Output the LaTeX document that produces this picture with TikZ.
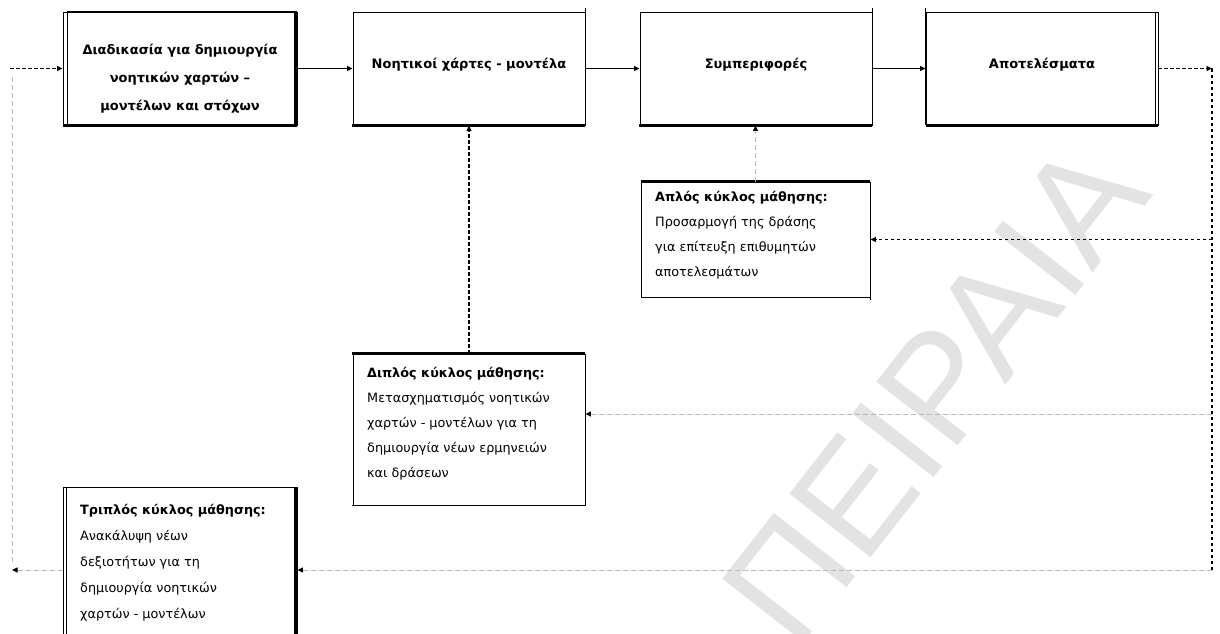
\documentclass[tikz,border=0pt]{standalone}
\usepackage{fontspec}
\setmainfont{DejaVu Sans}
\newfontfamily\wmfont{Liberation Sans}
\usetikzlibrary{arrows.meta}
\begin{document}
\begin{tikzpicture}[x=1pt,y=-1pt,
  frame/.style={draw=black, line width=0.9pt, fill=white, inner sep=0pt},
  topbox/.style={frame, minimum width=232pt, minimum height=113pt},
  toptext/.style={inner sep=0pt, align=center, font=\fontsize{13}{28}\selectfont\bfseries},
  looptext/.style={inner sep=0pt, align=left, anchor=north west},
  heavy/.style={line width=2.6pt},
  tip/.style={-{Triangle[length=5.5pt,width=5pt,color=black]}},
  solidarrow/.style={line width=1pt, tip},
  darkdash/.style={line width=1.3pt, dash pattern=on 3.5pt off 2.5pt},
  greydash/.style={draw=black!28, line width=0.9pt, dash pattern=on 5pt off 3pt},
  watermark/.style={text=black!11, inner sep=0pt, font=\wmfont\fontsize{150}{150}\selectfont}
]
\useasboundingbox (0,0) rectangle (1220,634);
\fill[white] (0,0) rectangle (1220,634);

% background lettering
\node[watermark, rotate=52] (wm) at (935,392) {ΠΕΙΡΑΙΑ};

% top row of boxes
\node[topbox, minimum width=234pt] (box1) at (180,68.5) {};
\node[topbox] (box2) at (469,68.5) {};
\node[topbox] (box3) at (756,68.5) {};
\node[topbox] (box4) at (1042,68.5) {};

% loop boxes
\node[frame, minimum width=229pt, minimum height=115pt] (single) at (755.5,239.5) {};
\node[frame, minimum width=232pt, minimum height=151pt] (double) at (469,429.5) {};
\node[frame, minimum width=234pt, minimum height=150pt] (triple) at (180,562) {};

% heavier edges of the frames
\draw[line width=0.9pt] ([xshift=4.5pt]box1.north west) -- ([xshift=4.5pt]box1.south west);
\draw[line width=3pt] ([xshift=-1.5pt]box1.north east) -- ([xshift=-1.5pt]box1.south east);
\draw[line width=2.2pt] (box1.south west) -- (box1.south east);
\draw[line width=1.8pt] ([xshift=4.5pt]box1.north west) -- (box1.north east);

\draw[heavy] ([xshift=-1pt]box2.south west) -- (box2.south east);
\draw[line width=0.9pt] ([yshift=4pt]box2.north east) -- (box2.south east);
\draw[heavy] ([xshift=-1pt]box3.south west) -- (box3.south east);
\draw[line width=0.9pt] ([yshift=4pt]box3.north east) -- (box3.south east);

\draw[heavy] (box4.south west) -- (box4.south east);
\draw[line width=0.9pt] ([yshift=4pt]box4.north west) -- (box4.south west);
\draw[line width=0.9pt] ([xshift=-3.5pt]box4.north east) -- ([xshift=-3.5pt]box4.south east);

\draw[heavy] (single.north west) -- (single.north east);
\draw[line width=0.9pt] (single.north east) -- ([yshift=-3pt]single.south east);
\draw[heavy] ([xshift=-1pt]double.north west) -- (double.north east);
\draw[line width=0.9pt] ([xshift=-1pt]double.south west) -- (double.south east);

\draw[line width=0.9pt] ([xshift=3.5pt]triple.north west) -- ([xshift=3.5pt]triple.south west);
\draw[line width=3.5pt] ([xshift=-1.75pt]triple.north east) -- ([xshift=-1.75pt]triple.south east);

% texts
\node[toptext] (t1) at (180,78.5) {Διαδικασία για δημιουργία\\νοητικών χαρτών –\\μοντέλων και στόχων};
\node[toptext, anchor=base] (t2) at (469,68) {Νοητικοί χάρτες - μοντέλα};
\node[toptext, anchor=base] (t3) at (756,68) {Συμπεριφορές};
\node[toptext, anchor=base] (t4) at (1042,68) {Αποτελέσματα};

\node[looptext, font=\fontsize{12.8}{25}\selectfont] (t5) at (655,191)
  {\textbf{Απλός κύκλος μάθησης:}\\Προσαρμογή της δράσης\\για επίτευξη επιθυμητών\\αποτελεσμάτων};
\node[looptext, font=\fontsize{12.8}{25}\selectfont] (t6) at (367,367)
  {\textbf{Διπλός κύκλος μάθησης:}\\Μετασχηματισμός νοητικών\\χαρτών - μοντέλων για τη\\δημιουργία νέων ερμηνειών\\και δράσεων};
\node[looptext, font=\fontsize{12.8}{26}\selectfont] (t7) at (80,504)
  {\textbf{Τριπλός κύκλος μάθησης:}\\Ανακάλυψη νέων\\δεξιοτήτων για τη\\δημιουργία νοητικών\\χαρτών - μοντέλων};

% junction points of the feedback lines
\coordinate (rt) at (1212,68.5);
\coordinate (rb) at (1212,570);
\coordinate (rd) at (1212,414);
\coordinate (lb) at (12,570);
\coordinate (lv) at (12,562);
\coordinate (lt) at (12,76);
\coordinate (ls) at (10,68.5);

% main chain
\draw[solidarrow] (box1.east) -- (box2.west);
\draw[solidarrow] (box2.east) -- (box3.west);
\draw[solidarrow] (box3.east) -- (box4.west);

% feedback loops
\draw[darkdash, tip] (box4.east) -- (rt);
\draw[darkdash] (rt) -- (rb);
\draw[darkdash, tip] (single.east -| rt) -- (single.east);
\draw[greydash, tip] (rd) -- (rd -| double.east);
\draw[greydash, tip] (rb) -- (rb -| triple.east);
\draw[greydash, tip] (rb -| triple.west) -- (lb);
\draw[greydash] (lv) -- (lt);
\draw[darkdash, tip] (ls) -- (box1.west);

\draw[greydash, tip] (single.north) -- (single.north |- box3.south);
\draw[darkdash, tip] (double.north) -- (double.north |- box2.south);
\end{tikzpicture}
\end{document}
